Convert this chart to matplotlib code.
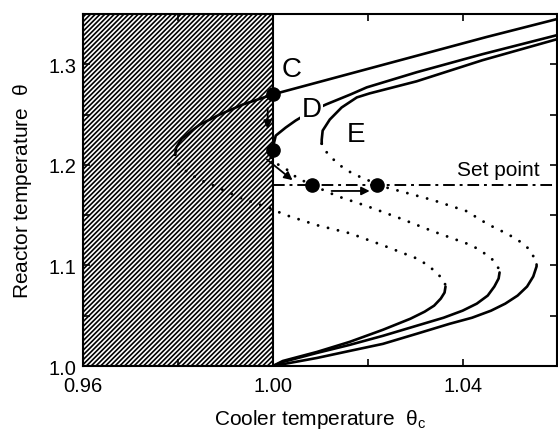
import matplotlib.pyplot as plt
import matplotlib.patches as mpatches

plt.rcParams['font.family'] = ['Liberation Sans', 'DejaVu Sans']
plt.rcParams['mathtext.fontset'] = 'custom'
plt.rcParams['mathtext.rm'] = 'Liberation Sans'
plt.rcParams['mathtext.it'] = 'Liberation Sans'
plt.rcParams['hatch.linewidth'] = 1.2

# curve C
c_up_x = [0.9794, 0.9796, 0.9800, 0.9808, 0.9819, 0.9832, 0.9846, 0.9867, 0.9888, 0.9937, 0.9994,
          1.0000, 1.0150, 1.0300, 1.0450, 1.0600]
c_up_y = [1.210, 1.217, 1.220, 1.226, 1.230, 1.235, 1.240, 1.245, 1.250, 1.260, 1.269,
          1.270, 1.289, 1.308, 1.327, 1.345]
c_mid_x = [0.9794, 0.9796, 0.9808, 0.9825, 0.9846, 0.9872, 0.9895, 0.9937, 1.0000, 1.0021, 1.0093,
           1.0162, 1.0232, 1.0303, 1.0324, 1.0345, 1.0362, 1.0364]
c_mid_y = [1.210, 1.204, 1.197, 1.191, 1.185, 1.180, 1.175, 1.166, 1.156, 1.151, 1.140,
           1.132, 1.120, 1.107, 1.101, 1.093, 1.084, 1.079]
c_low_x = [1.0364, 1.0362, 1.0354, 1.0340, 1.0320, 1.0290, 1.0232, 1.0162, 1.0093, 1.0021, 1.0000]
c_low_y = [1.079, 1.073, 1.067, 1.060, 1.054, 1.047, 1.036, 1.024, 1.014, 1.005, 1.000]

# curve D
d_up_x = [0.9996, 1.0000, 1.0006, 1.0027, 1.0048, 1.0080, 1.0112, 1.0164, 1.0198, 1.0303, 1.0442, 1.0600]
d_up_y = [1.207, 1.217, 1.229, 1.237, 1.244, 1.253, 1.260, 1.270, 1.277, 1.292, 1.310, 1.329]
d_mid_x = [0.9996, 1.0004, 1.0025, 1.0051, 1.0082, 1.0135, 1.0198, 1.0267, 1.0337, 1.0419, 1.0440,
           1.0461, 1.0476, 1.0478]
d_mid_y = [1.207, 1.202, 1.197, 1.187, 1.180, 1.169, 1.159, 1.147, 1.134, 1.120, 1.114,
           1.107, 1.097, 1.093]
d_low_x = [1.0478, 1.0476, 1.0467, 1.0453, 1.0430, 1.0400, 1.0360, 1.0303, 1.0232, 1.0162, 1.0093,
           1.0021, 1.0000]
d_low_y = [1.093, 1.087, 1.079, 1.070, 1.062, 1.055, 1.048, 1.040, 1.030, 1.021, 1.013,
           1.004, 1.000]

# curve E
e_up_x = [1.0103, 1.0103, 1.0105, 1.0120, 1.0145, 1.0177, 1.0204, 1.0303, 1.0442, 1.0600]
e_up_y = [1.221, 1.225, 1.234, 1.245, 1.257, 1.267, 1.271, 1.283, 1.304, 1.325]
e_mid_x = [1.0103, 1.0105, 1.0120, 1.0137, 1.0158, 1.0179, 1.0204, 1.0219, 1.0267, 1.0337, 1.0408,
           1.0453, 1.0474, 1.0496, 1.0520, 1.0541, 1.0554, 1.0556]
e_mid_y = [1.221, 1.217, 1.209, 1.201, 1.194, 1.189, 1.184, 1.180, 1.174, 1.165, 1.154,
           1.141, 1.136, 1.131, 1.124, 1.116, 1.105, 1.101]
e_low_x = [1.0556, 1.0556, 1.0549, 1.0536, 1.0516, 1.0490, 1.0460, 1.0420, 1.0373, 1.0303, 1.0232,
           1.0162, 1.0093, 1.0000]
e_low_y = [1.101, 1.099, 1.089, 1.079, 1.070, 1.062, 1.055, 1.048, 1.042, 1.032, 1.022,
           1.015, 1.008, 1.000]

set_point = 1.180
dots_x = [1.0000, 1.0000, 1.0082, 1.0219]
dots_y = [1.270, 1.215, 1.180, 1.180]

fig = plt.figure(figsize=(5.58, 4.39), dpi=100)
ax = fig.add_axes([0.149, 0.164, 0.850, 0.802])

# hatched forbidden region
ax.add_patch(mpatches.Rectangle((0.96, 1.0), 0.04, 0.35, facecolor='white',
                                edgecolor='black', hatch='///////', linewidth=1.5, zorder=0))

solid = dict(color='black', linewidth=1.9, solid_capstyle='round', solid_joinstyle='round')
dotted = dict(color='black', linewidth=2.1, linestyle=(0, (0.01, 3.5)), dash_capstyle='round')

for ux, uy, mx, my, lx, ly in [(c_up_x, c_up_y, c_mid_x, c_mid_y, c_low_x, c_low_y),
                               (d_up_x, d_up_y, d_mid_x, d_mid_y, d_low_x, d_low_y),
                               (e_up_x, e_up_y, e_mid_x, e_mid_y, e_low_x, e_low_y)]:
    ax.plot(ux, uy, **solid)
    ax.plot(mx, my, **dotted)
    ax.plot(lx, ly, **solid)

# set point line
ax.plot([1.0, 1.06], [set_point, set_point], color='black', linewidth=1.4,
        linestyle=(0, (6, 2.5, 1.5, 2.5)))
ax.text(1.0562, 1.190, 'Set point', fontsize=15, ha='right', va='baseline')

ax.plot(dots_x, dots_y, 'o', color='black', markersize=9.5, zorder=5)

# arrows
arr = dict(arrowstyle='-|>', color='black', lw=1.3, mutation_scale=12)
ax.annotate('', xy=(0.9989, 1.233), xytext=(0.9989, 1.259), arrowprops=arr)
ax.annotate('', xy=(1.0046, 1.183), xytext=(0.9983, 1.207), arrowprops=arr)
ax.annotate('', xy=(1.0210, 1.174), xytext=(1.0118, 1.174), arrowprops=arr)

# curve labels
ax.text(1.0040, 1.295, 'C', fontsize=20, ha='center', va='center')
ax.text(1.0082, 1.255, 'D', fontsize=20, ha='center', va='center',
        bbox=dict(facecolor='white', edgecolor='none', pad=1))
ax.text(1.0175, 1.231, 'E', fontsize=20, ha='center', va='center')

ax.set_xlim(0.96, 1.06)
ax.set_ylim(1.0, 1.35)
ax.set_xticks([0.96, 0.98, 1.00, 1.02, 1.04, 1.06])
ax.set_xticklabels(['0.96', '', '1.00', '', '1.04', ''])
ax.set_yticks([1.0, 1.05, 1.1, 1.15, 1.2, 1.25, 1.3])
ax.set_yticklabels(['1.0', '', '1.1', '', '1.2', '', '1.3'])
ax.tick_params(direction='in', length=5, width=1.2, top=True, right=True, labelsize=14.5)
ax.tick_params(axis='x', pad=7)
ax.tick_params(axis='y', pad=5)
for s in ax.spines.values():
    s.set_linewidth(1.5)

ax.set_xlabel(r'Cooler temperature  $\theta_c$', fontsize=15, labelpad=9)
ax.set_ylabel(r'Reactor temperature  $\theta$', fontsize=15, labelpad=10)

plt.savefig('out.png', dpi=100)
